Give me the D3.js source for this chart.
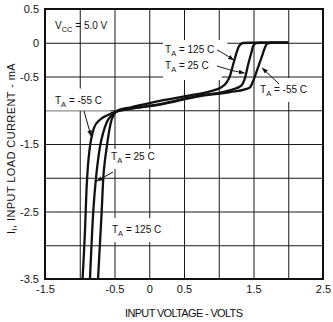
<!DOCTYPE html>
<html><head><meta charset="utf-8">
<script src="https://cdn.jsdelivr.net/npm/d3@7"></script>
<style>
html,body{margin:0;padding:0;background:#fff;}
svg{display:block;}
text{font-family:"Liberation Sans",Arial,sans-serif;fill:#111;}
</style></head><body>
<svg id="chart" width="333" height="322"></svg>
<script>
// ---- data ----
const xGridValues = [-1.5,-1,-0.5,0,0.5,1,1.5,2,2.5];
const yGridValues = [0.5,0,-0.5,-1,-1.5,-2,-2.5,-3,-3.5];
const xTickValues = [-1.5,-0.5,0,0.5,1.5,2.5];
const xTickLabels = ["-1.5","-0.5","0","0.5","1.5","2.5"];
const yTickValues = [0.5,0,-0.5,-1.5,-2.5,-3.5];
const yTickLabels = ["0.5","0","-0.5","-1.5","-2.5","-3.5"];

const seriesNames = ["-55 C","25 C","125 C"];
// T_A = -55 C
const voltsM55   = [-0.96,-0.924,-0.903,-0.881,-0.86,-0.838,-0.795,-0.709,-0.594,-0.478,-0.277,0.155,0.73,1.162,1.378,1.45,1.49,1.56,1.625,1.665,1.70,1.76,2.0];
const currentM55 = [-3.5,-2.77,-2.18,-1.81,-1.59,-1.44,-1.26,-1.14,-1.07,-1.02,-0.98,-0.915,-0.79,-0.73,-0.69,-0.66,-0.58,-0.38,-0.19,-0.07,-0.01,0,0];
// T_A = 25 C
const volts25   = [-0.853,-0.805,-0.766,-0.737,-0.709,-0.665,-0.608,-0.536,-0.45,-0.277,0.155,0.73,1.018,1.205,1.32,1.378,1.421,1.471,1.493,1.536,1.6,2.0];
const current25 = [-3.5,-2.49,-2.0,-1.74,-1.54,-1.34,-1.17,-1.07,-1.01,-0.975,-0.91,-0.78,-0.74,-0.69,-0.64,-0.52,-0.33,-0.14,-0.05,-0.004,0,0];
// T_A = 125 C
const volts125   = [-0.737,-0.684,-0.661,-0.637,-0.608,-0.579,-0.55,-0.507,-0.45,-0.277,0.155,0.586,0.874,1.018,1.104,1.162,1.205,1.255,1.291,1.349,1.45,2.0];
const current125 = [-3.5,-2.49,-2.0,-1.74,-1.52,-1.32,-1.17,-1.06,-1.0,-0.96,-0.86,-0.78,-0.72,-0.67,-0.60,-0.49,-0.33,-0.15,-0.05,-0.004,0,0];

const seriesVolts = [voltsM55, volts25, volts125];
const seriesCurrent = [currentM55, current25, current125];

// ---- drawing ----
const svg = d3.select("#chart");
const W = 333, H = 322;
const m = {left:45, right:10, top:9, bottom:43};
const x = d3.scaleLinear().domain([-1.5,2.5]).range([m.left, W - m.right]);
const y = d3.scaleLinear().domain([-3.5,0.5]).range([H - m.bottom, m.top]);
const pw = x.range()[1]-x.range()[0], ph = y.range()[0]-y.range()[1];

svg.append("rect").attr("width",W).attr("height",H).attr("fill","#fff");

// grid
const gx = svg.append("g").attr("transform",`translate(0,${y(-3.5)})`)
  .call(d3.axisBottom(x).tickValues(xGridValues).tickSize(-ph).tickFormat(""));
const gy = svg.append("g").attr("transform",`translate(${x(-1.5)},0)`)
  .call(d3.axisLeft(y).tickValues(yGridValues).tickSize(-pw).tickFormat(""));
[gx,gy].forEach(g=>{g.select(".domain").remove(); g.selectAll("line").attr("stroke","#1a1a1a").attr("stroke-width",1);});

const maskLayer = svg.append("g");
const curveLayer = svg.append("g");
const annLayer = svg.append("g");

// frame
svg.append("rect").attr("x",x(-1.5)).attr("y",y(0.5)).attr("width",pw).attr("height",ph)
  .attr("fill","none").attr("stroke","#111").attr("stroke-width",2);

// tick labels
const ax = svg.append("g").attr("transform",`translate(0,${y(-3.5)})`)
  .call(d3.axisBottom(x).tickValues(xTickValues).tickSize(0).tickPadding(6).tickFormat((d,i)=>xTickLabels[i]));
const ay = svg.append("g").attr("transform",`translate(${x(-1.5)},0)`)
  .call(d3.axisLeft(y).tickValues(yTickValues).tickSize(0).tickPadding(6).tickFormat((d,i)=>yTickLabels[i]));
[ax,ay].forEach(g=>{g.select(".domain").remove(); g.selectAll("text").attr("font-size",11).attr("font-family","Liberation Sans, Arial, sans-serif").attr("fill","#111");});

// axis titles
svg.append("text").attr("x",(x(-1.5)+x(2.5))/2).attr("y",316.5).attr("text-anchor","middle")
  .attr("font-size",11).attr("textLength",118).attr("lengthAdjust","spacing").text("INPUT VOLTAGE - VOLTS");
const yt = svg.append("text").attr("transform",`translate(14.5,${(65+232)/2}) rotate(-90)`).attr("text-anchor","middle")
  .attr("font-size",11).attr("letter-spacing",0.4);
yt.append("tspan").text("I");
yt.append("tspan").attr("font-size",8).attr("dy",2.5).text("I");
yt.append("tspan").attr("dy",-2.5).text(",  INPUT LOAD CURRENT - mA");

// curves
const line = d3.line().x(d=>x(d[0])).y(d=>y(d[1])).curve(d3.curveMonotoneX);
seriesNames.forEach((name,k)=>{
  const pts = seriesVolts[k].map((v,i)=>[v, seriesCurrent[k][i]]);
  curveLayer.append("path").attr("d",line(pts)).attr("fill","none")
    .attr("stroke","#111").attr("stroke-width",2.3).attr("stroke-linejoin","round");
});

// labels with subscripts
function label(v,i,main,sub,rest,pad){
  const t = annLayer.append("text").attr("x",x(v)).attr("y",y(i)).attr("font-size",10);
  t.append("tspan").text(main);
  t.append("tspan").attr("font-size",7.5).attr("dy",3).text(sub);
  t.append("tspan").attr("dy",-3).text(rest);
  if(pad){
    const b = t.node().getBBox();
    maskLayer.append("rect").attr("x",b.x-pad[0]).attr("y",b.y-pad[2])
      .attr("width",b.width+pad[0]+pad[1]).attr("height",b.height+pad[2]+pad[3]).attr("fill","#fff");
  }
  return t;
}
label(-1.356,0.211,"V","CC"," = 5.0 V",null);
label(-1.356,-0.90,"T","A"," = -55 C",[10,8,6,2]);
label(-0.55,-1.737,"T","A"," = 25 C",[3,2,2,4]);
label(-0.536,-2.819,"T","A"," = 125 C",[3,2,6,4]);
label(0.227,-0.152,"T","A"," = 125 C",[2,13,4,2]);
label(0.227,-0.389,"T","A"," = 25 C",[2,13,2,6]);
label(1.594,-0.744,"T","A"," = -55 C",[2,2,6,4]);

// arrows
svg.append("defs").append("marker").attr("id","ah").attr("viewBox","0 0 8 6")
  .attr("refX",7.5).attr("refY",3).attr("markerWidth",6).attr("markerHeight",4.5)
  .attr("orient","auto").attr("markerUnits","userSpaceOnUse")
  .append("path").attr("d","M0,0 L8,3 L0,6 Z").attr("fill","#111");
const aLine = d3.line().x(d=>x(d[0])).y(d=>y(d[1])).curve(d3.curveBasis);
const arrows = [
  [[-0.939,-1.011],[-0.838,-1.381]],
  [[-0.522,-1.915],[-0.752,-2.048]],
  [[0.975,-0.107],[1.061,-0.152],[1.215,-0.256]],
  [[0.975,-0.344],[1.205,-0.419],[1.37,-0.448]],
  [[1.867,-0.611],[1.625,-0.374]]
];
arrows.forEach(a=>{
  annLayer.append("path").attr("d",aLine(a)).attr("fill","none").attr("stroke","#111")
    .attr("stroke-width",1).attr("marker-end","url(#ah)");
});
</script>
</body></html>
